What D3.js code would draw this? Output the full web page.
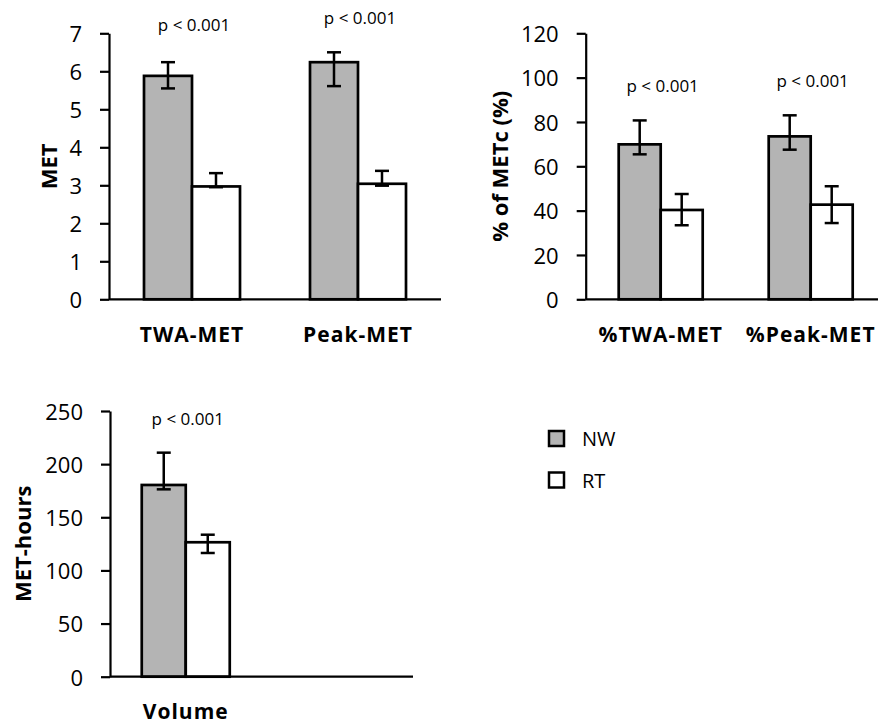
<!DOCTYPE html>
<html>
<head>
<meta charset="utf-8">
<script src="https://cdn.jsdelivr.net/npm/d3@7"></script>
<style>
  body { margin: 0; background: #fff; }
  svg { display: block; font-family: "Open Sans", sans-serif; }
</style>
</head>
<body>
<div id="chart"></div>
<script>
// values (mean, lower / upper error ends)
var metCats = ["TWA-MET", "Peak-MET"];
var metNW   = [5.88, 6.24], metNWLo = [5.55, 5.61], metNWHi = [6.24, 6.50];
var metRT   = [2.97, 3.04], metRTLo = [2.95, 2.99], metRTHi = [3.32, 3.38];
var metTicks = [0, 1, 2, 3, 4, 5, 6, 7];

var pctCats = ["%TWA-MET", "%Peak-MET"];
var pctNW   = [69.9, 73.5], pctNWLo = [65.4, 67.5], pctNWHi = [80.7, 83.0];
var pctRT   = [40.3, 42.7], pctRTLo = [33.4, 34.4], pctRTHi = [47.5, 51.0];
var pctTicks = [0, 20, 40, 60, 80, 100, 120];

var volCats = ["Volume"];
var volNW   = [180.4], volNWLo = [176.3], volNWHi = [210.8];
var volRT   = [126.5], volRTLo = [116.4], volRTHi = [133.6];
var volTicks = [0, 50, 100, 150, 200, 250];

var pLabels = ["p < 0.001", "p < 0.001"];
var seriesNames = ["NW", "RT"];
var seriesFill = ["#b4b4b4", "#ffffff"];

var W = 878, H = 724;
var svg = d3.select('#chart').append('svg')
    .attr('width', W).attr('height', H);

// layout of the three panels
var panels = [
  { cats: metCats, nw: metNW, nwLo: metNWLo, nwHi: metNWHi, rt: metRT, rtLo: metRTLo, rtHi: metRTHi,
    ticks: metTicks, title: "MET", slots: 2,
    x0: 109, x1: 441, y0: 299.3, y1: 33.3, barW: 48, titleX: 49, labelY: 342, pY: [31, 23.5] },
  { cats: pctCats, nw: pctNW, nwLo: pctNWLo, nwHi: pctNWHi, rt: pctRT, rtLo: pctRTLo, rtHi: pctRTHi,
    ticks: pctTicks, title: "% of METc (%)", slots: 2,
    x0: 585.7, x1: 885.7, y0: 299.3, y1: 33.3, barW: 42, titleX: 500, labelY: 342, pY: [91.5, 86.5] },
  { cats: volCats, nw: volNW, nwLo: volNWLo, nwHi: volNWHi, rt: volRT, rtLo: volRTLo, rtHi: volRTHi,
    ticks: volTicks, title: "MET-hours", slots: 2,
    x0: 110, x1: 413, y0: 676.7, y1: 411, barW: 44, titleX: 23, labelY: 719, pY: [424.5] }
];

panels.forEach(function(p) {
  var g = svg.append('g').attr('class', 'panel');
  var slots = d3.range(p.slots);
  var x = d3.scaleBand().domain(slots).range([p.x0, p.x1]).padding(0);
  var y = d3.scaleLinear().domain([0, d3.max(p.ticks)]).range([p.y0, p.y1]);
  var cx = function(i) { return x(i) + x.bandwidth() / 2; };

  // bars
  var series = [
    { v: p.nw, lo: p.nwLo, hi: p.nwHi, fill: seriesFill[0], off: -p.barW },
    { v: p.rt, lo: p.rtLo, hi: p.rtHi, fill: seriesFill[1], off: 0 }
  ];
  series.forEach(function(s) {
    g.selectAll(null).data(s.v).enter().append('rect')
      .attr('x', function(d, i) { return cx(i) + s.off; })
      .attr('y', function(d) { return y(d); })
      .attr('width', p.barW)
      .attr('height', function(d) { return y(0) - y(d); })
      .attr('fill', s.fill)
      .attr('stroke', '#000')
      .attr('stroke-width', 2.7);
  });

  // error bars
  series.forEach(function(s) {
    s.v.forEach(function(d, i) {
      var ex = cx(i) + s.off + p.barW / 2;
      var eg = g.append('g').attr('stroke', '#000').attr('stroke-width', 2.5);
      eg.append('line').attr('x1', ex).attr('x2', ex).attr('y1', y(s.lo[i])).attr('y2', y(s.hi[i]));
      [s.lo[i], s.hi[i]].forEach(function(e) {
        eg.append('line').attr('x1', ex - 7).attr('x2', ex + 7).attr('y1', y(e)).attr('y2', y(e));
      });
    });
  });

  // y axis (line + ticks from d3, labels drawn separately)
  var yAxis = d3.axisLeft(y).tickValues(p.ticks).tickFormat('')
      .tickSize(9).tickSizeOuter(0);
  var ya = g.append('g').attr('transform', 'translate(' + p.x0 + ',0)').call(yAxis);
  ya.select('.domain').attr('stroke', '#000').attr('stroke-width', 2.2);
  ya.selectAll('.tick line').attr('stroke', '#000').attr('stroke-width', 2.2);

  g.selectAll(null).data(p.ticks).enter().append('text')
    .attr('x', p.x0 - 27)
    .attr('y', function(d) { return y(d); })
    .attr('dy', '0.4em')
    .attr('text-anchor', 'end')
    .attr('font-size', 22)
    .text(d3.format('d'));

  // x axis baseline
  g.append('line').attr('x1', p.x0).attr('x2', p.x1).attr('y1', y(0)).attr('y2', y(0))
    .attr('stroke', '#000').attr('stroke-width', 2.2);

  // category labels
  g.selectAll(null).data(p.cats).enter().append('text')
    .attr('x', function(d, i) { return cx(i); })
    .attr('y', p.labelY)
    .attr('text-anchor', 'middle')
    .attr('font-size', 21).attr('font-weight', 'bold')
    .attr('letter-spacing', 1)
    .text(function(d) { return d; });

  // p values
  g.selectAll(null).data(p.cats).enter().append('text')
    .attr('x', function(d, i) { return cx(i) + 2; })
    .attr('y', function(d, i) { return p.pY[i]; })
    .attr('text-anchor', 'middle')
    .attr('font-size', 17)
    .text(function(d, i) { return pLabels[i]; });

  // y title
  g.append('text')
    .attr('transform', 'translate(' + (p.titleX + 8) + ',' + ((p.y0 + p.y1) / 2) + ')rotate(-90)')
    .attr('text-anchor', 'middle')
    .attr('font-size', 22).attr('font-weight', 'bold')
    .text(p.title);
});

// legend
var leg = svg.append('g').attr('transform', 'translate(549,431)');
seriesNames.forEach(function(n, i) {
  var row = leg.append('g').attr('transform', 'translate(0,' + (i * 41.5) + ')');
  row.append('rect').attr('width', 15).attr('height', 15)
    .attr('fill', seriesFill[i]).attr('stroke', '#000').attr('stroke-width', 2.5);
  row.append('text').attr('x', 33).attr('y', 15).attr('font-size', 20).text(n);
});
</script>
</body>
</html>
